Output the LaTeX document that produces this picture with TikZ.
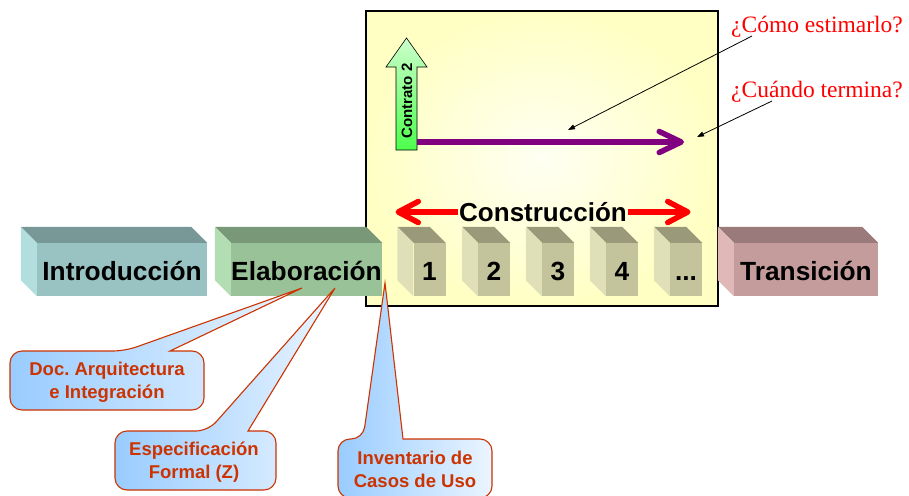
\documentclass[tikz,border=0pt]{standalone}
\usepackage{fontspec}
\setmainfont{Liberation Sans}
\newfontfamily\serifq{Liberation Serif}
\usetikzlibrary{arrows.meta}
\frenchspacing
\definecolor{introF}{HTML}{99C2C2}
\definecolor{introT}{HTML}{789898}
\definecolor{introL}{HTML}{B3DEDE}
\definecolor{elabF}{HTML}{99C299}
\definecolor{elabT}{HTML}{789878}
\definecolor{elabL}{HTML}{B3DEB3}
\definecolor{consF}{HTML}{C4C49C}
\definecolor{consT}{HTML}{9A9A7A}
\definecolor{consL}{HTML}{E0E0B8}
\definecolor{tranF}{HTML}{C49C9C}
\definecolor{tranT}{HTML}{9A7A7A}
\definecolor{tranL}{HTML}{E0B8B8}
\definecolor{calloutred}{HTML}{CC3300}
\definecolor{calloutblue}{HTML}{99CCFF}
\definecolor{boxyellow}{HTML}{FFFFC4}
\definecolor{purpleline}{HTML}{800080}
\newcommand\blkfaces[3]{%
  \fill[#2] (#1.north west) -- ++(-16,-16) -- ([shift={(-16,-16)}]#1.north east) -- (#1.north east) -- cycle;
  \fill[#3] (#1.north west) -- ++(-16,-16) -- ([shift={(-16,-16)}]#1.south west) -- (#1.south west) -- cycle;}
\begin{document}
\begin{tikzpicture}[x=1pt,y=-1pt,
  blk/.style={minimum height=53, inner sep=0, text height=21.6, text depth=0, font=\bfseries\fontsize{26.3}{30}\selectfont, text=black},
  cblk/.style={blk, minimum width=32, fill=consF},
  redarr/.style={draw=red, line width=5.5, -{Straight Barb[length=20pt,width=21pt,round]}},
  purarr/.style={draw=purpleline, line width=5.5, -{Straight Barb[length=22pt,width=21pt,round]}},
  blkarr/.style={draw=black, line width=0.8, -{Triangle[length=7pt,width=5pt]}},
  question/.style={anchor=base west, text=red, font=\serifq\fontsize{23.5}{26}\selectfont, inner sep=0},
  callout/.style={draw=calloutred, line width=1.1, left color=calloutblue, middle color=white, right color=calloutblue!20},
  callouttext/.style={align=center, text=calloutred, font=\bfseries\fontsize{18.5}{23}\selectfont, inner sep=0}]
\clip (0,0) rectangle (909,495);
\fill[white] (0,0) rectangle (909,495);
% construction frame
\shadedraw[draw=black, line width=1.2, inner color=white!80!boxyellow, outer color=boxyellow] (366,11) rectangle (718,306);
% blocks
\node[blk, minimum width=170, fill=introF] (intro) at (122,269.5) {Introducción};
\blkfaces{intro}{introT}{introL}
\node[blk, minimum width=151, fill=elabF] (elab) at (306.5,269.5) {Elaboración};
\blkfaces{elab}{elabT}{elabL}
\node[cblk] (c1) at (429.5,269.5) {1};
\blkfaces{c1}{consT}{consL}
\node[cblk] (c2) at (494,269.5) {2};
\blkfaces{c2}{consT}{consL}
\node[cblk] (c3) at (558,269.5) {3};
\blkfaces{c3}{consT}{consL}
\node[cblk] (c4) at (622,269.5) {4};
\blkfaces{c4}{consT}{consL}
\node[cblk] (c5) at (686,269.5) {...};
\blkfaces{c5}{consT}{consL}
\node[blk, minimum width=144, fill=tranF] (tran) at (806,269.5) {Transición};
\blkfaces{tran}{tranT}{tranL}
% contrato arrow
\shadedraw[draw=black, line width=0.6, top color=green!20, bottom color=green!70!white]
  (396,150) -- (396,67) -- (386,67) -- (406.5,38) -- (427,67) -- (417,67) -- (417,150) -- cycle;
\node[rotate=90, font=\bfseries\fontsize{15}{17}\selectfont, inner sep=0] (contrato) at (407,101) {Contrato 2};
\coordinate (pstart) at (417,142);
\coordinate (pend) at (684,142);
\draw[purarr] (pstart) -- (pend);
% construccion arrow
\node[font=\bfseries\fontsize{26}{30}\selectfont, inner sep=1.5] (cons) at (543,212) {Construcción};
\coordinate (lt) at (395.5,212);
\coordinate (rt) at (690.5,212);
\draw[redarr] (cons.west) -- (lt);
\draw[redarr] (cons.east) -- (rt);
% questions
\node[question] (q1) at (731,33) {¿Cómo estimarlo?};
\node[question] (q2) at (731,97) {¿Cuándo termina?};
\coordinate (a1s) at (752,36);
\coordinate (a1e) at (568,130);
\coordinate (a2s) at (772,101);
\coordinate (a2e) at (697,137);
\draw[blkarr] (a1s) -- (a1e);
\draw[blkarr] (a2s) -- (a2e);
% callouts
\coordinate (t1) at (302,288);
\coordinate (t2) at (335,288);
\coordinate (t3) at (385,283);
\path[callout] (t1) -- (170,351) [rounded corners=12] -- (204,351) -- (204,410) -- (10,410) -- (10,351) -- (125,351) [sharp corners] -- cycle;
\node[callouttext] (k1) at (107,382) {Doc. Arquitectura\\e Integración};
\path[callout] (t2) -- (248,431) [rounded corners=12] -- (276,431) -- (276,490) -- (115,490) -- (115,431) -- (208,431) [sharp corners] -- cycle;
\node[callouttext] (k2) at (194,462) {Especificación\\Formal (Z)};
\path[callout] (t3) -- (403,439) [rounded corners=12] -- (492,439) -- (492,498) -- (338,498) -- (338,439) -- (363,439) [sharp corners] -- cycle;
\node[callouttext] (k3) at (415,469.5) {Inventario de\\Casos de Uso};
\end{tikzpicture}
\end{document}
